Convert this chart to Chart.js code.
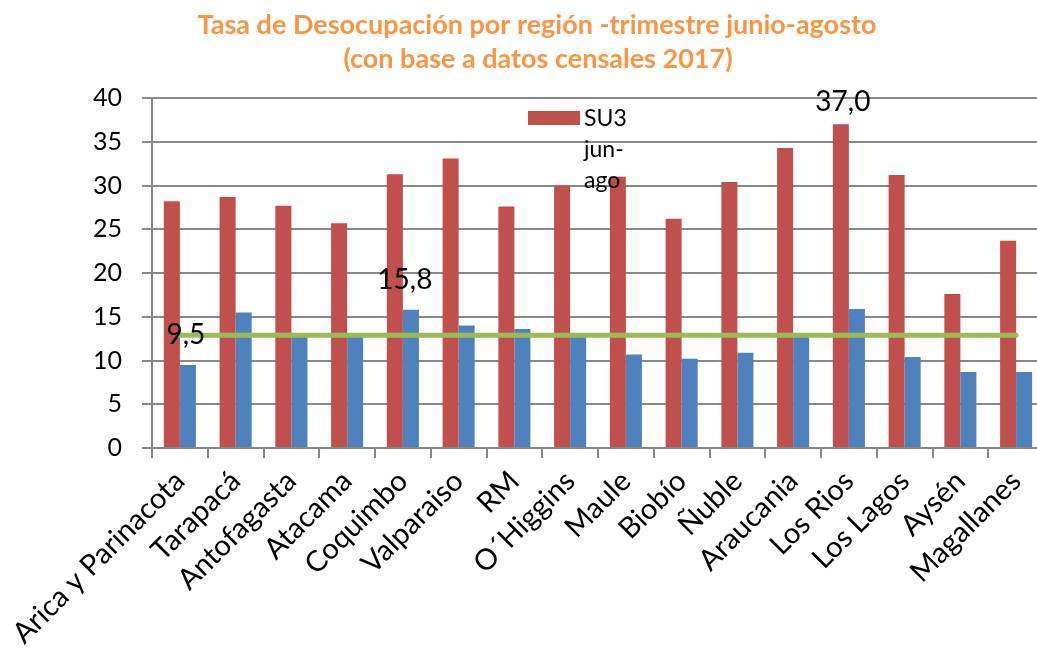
<!DOCTYPE html>
<html>
<head>
<meta charset="utf-8">
<script src="https://cdn.jsdelivr.net/npm/chart.js@4/dist/chart.umd.min.js"></script>
<style>
  html, body { margin: 0; padding: 0; background: #fff; overflow: hidden; }
  #wrap { position: relative; width: 1080px; height: 653px; }
</style>
</head>
<body>
<div id="wrap"><canvas id="c" width="1080" height="653"></canvas></div>
<script>
// ---- data ----
const titleLines = ['Tasa de Desocupación por región -trimestre junio-agosto', '(con base a datos censales 2017)'];
const regions = ['Arica y Parinacota', 'Tarapacá', 'Antofagasta', 'Atacama', 'Coquimbo', 'Valparaiso', 'RM', 'O´Higgins', 'Maule', 'Biobío', 'Ñuble', 'Araucania', 'Los Rios', 'Los Lagos', 'Aysén', 'Magallanes'];
const su3Label = 'SU3 jun-ago';
const su3Values = [28.2, 28.7, 27.7, 25.7, 31.3, 33.1, 27.6, 30.0, 31.0, 26.2, 30.4, 34.3, 37.0, 31.2, 17.6, 23.7];
const tdLabel = 'Tasa de desocupación';
const tdValues = [9.5, 15.5, 12.7, 12.8, 15.8, 14.0, 13.6, 12.9, 10.7, 10.2, 10.9, 12.9, 15.9, 10.4, 8.7, 8.7];
const nationalLabel = 'Promedio';
const nationalValues = regions.map(() => 12.9);
const yTicks = [0, 5, 10, 15, 20, 25, 30, 35, 40];
// labelled points: [dataset index, category index]
const labelledPoints = [[1, 0], [1, 4], [0, 12]];

const FONT = 'Lato, "Open Sans", sans-serif';

const overlay = {
  id: 'overlay',
  afterDraw(chart) {
    const ctx = chart.ctx;
    ctx.save();
    // title
    ctx.fillStyle = '#F79646';
    ctx.font = 'bold 27px ' + FONT;
    ctx.textAlign = 'center';
    ctx.textBaseline = 'alphabetic';
    ctx.fillText(titleLines[0], 537, 34);
    ctx.fillText(titleLines[1], 538, 68);
    // legend (wrapped)
    ctx.fillStyle = '#C0504D';
    ctx.fillRect(528, 111, 52, 14);
    ctx.fillStyle = '#000';
    ctx.font = '23px ' + FONT;
    ctx.textAlign = 'left';
    const words = ['SU3', 'jun-', 'ago'];
    words.forEach((w, i) => ctx.fillText(w, 584, 126 + i * 31));
    // data labels
    ctx.font = '28px ' + FONT;
    ctx.textAlign = 'center';
    ctx.textBaseline = 'middle';
    const offs = [[-2, -30], [-6, -30], [2, -22]];
    labelledPoints.forEach(([ds, idx], k) => {
      const el = chart.getDatasetMeta(ds).data[idx];
      const v = chart.data.datasets[ds].data[idx];
      ctx.fillText(v.toFixed(1).replace('.', ','), el.x + offs[k][0], el.y + offs[k][1]);
    });
    ctx.restore();
  }
};

new Chart(document.getElementById('c'), {
  type: 'bar',
  data: {
    labels: regions,
    datasets: [
      { type: 'bar', label: su3Label, data: su3Values, backgroundColor: '#C0504D', order: 2,
        categoryPercentage: 0.575, barPercentage: 1.0 },
      { type: 'bar', label: tdLabel, data: tdValues, backgroundColor: '#4F81BD', order: 3,
        categoryPercentage: 0.575, barPercentage: 1.0 },
      { type: 'line', label: nationalLabel, data: nationalValues, borderColor: '#9BBB59', borderWidth: 5,
        pointRadius: 0, fill: false, order: 0, borderCapStyle: 'round' }
    ]
  },
  options: {
    responsive: false,
    animation: false,
    layout: { padding: { left: 0, right: 36, top: 98, bottom: 0 } },
    plugins: { legend: { display: false }, title: { display: false }, tooltip: { enabled: false } },
    scales: {
      x: {
        offset: true,
        grid: { display: true, drawOnChartArea: false, drawTicks: true, tickLength: 10, offset: true, color: '#888', lineWidth: 2 },
        border: { display: true, color: '#888', width: 2 },
        ticks: { minRotation: 45, maxRotation: 45, autoSkip: false, color: '#000', font: { family: FONT, size: 29 }, padding: 6 },
        afterFit(s) { s.height = 205; }
      },
      y: {
        min: 0, max: 40,
        afterBuildTicks(s) { s.ticks = yTicks.map(v => ({ value: v })); },
        grid: { color: '#888', lineWidth: 2, tickLength: 10, drawTicks: true },
        border: { display: true, color: '#888', width: 2 },
        ticks: { color: '#000', font: { family: FONT, size: 25 }, padding: 20 },
        afterFit(s) { s.width = 152; }
      }
    }
  },
  plugins: [overlay]
});
</script>
</body>
</html>
